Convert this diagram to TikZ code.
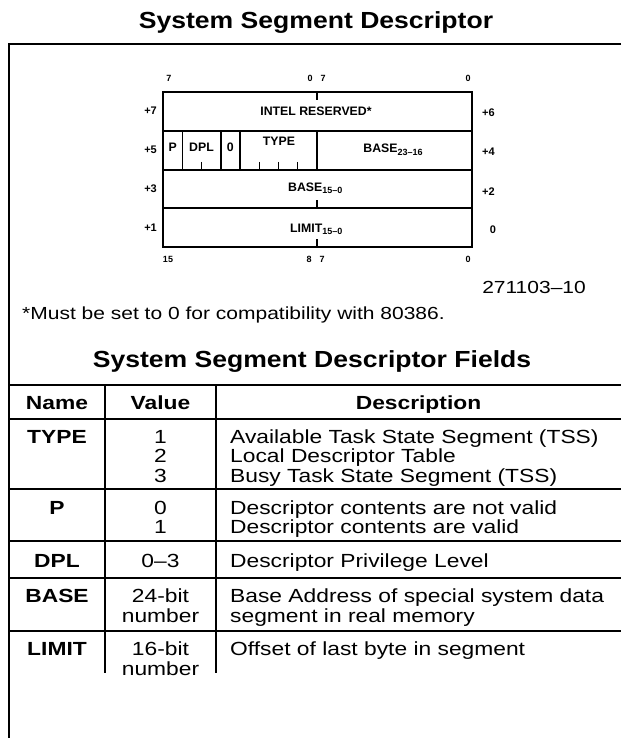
\documentclass[tikz,border=0pt]{standalone}
\usepackage{fontspec}
\setmainfont{Liberation Sans}[FakeStretch=1.2]
\newfontfamily\titlefont{Liberation Sans}[FakeStretch=1.14]
\newfontfamily\diagfont{Liberation Sans}
\newcommand{\subtxt}[1]{\raisebox{-0.45ex}{\fontsize{9}{9}\selectfont #1}}
\begin{document}
\begin{tikzpicture}[x=1pt,y=-1pt,
  frame/.style={line width=1.7pt},
  reg/.style={line width=1.9pt},
  regdiv/.style={line width=1.5pt},
  regtick/.style={line width=1.2pt},
  bigtitle/.style={font=\titlefont\bfseries\fontsize{23.3}{26}\selectfont, inner sep=0pt, anchor=base},
  note/.style={font=\fontsize{17.5}{19}\selectfont, inner sep=0pt, anchor=base},
  tbltext/.style={font=\fontsize{19}{19.5}\selectfont, inner sep=0pt, anchor=base},
  tblhead/.style={font=\bfseries\fontsize{19}{19.5}\selectfont, inner sep=0pt, anchor=base},
  field/.style={font=\diagfont\bfseries\fontsize{12.3}{12}\selectfont, inner sep=0pt, anchor=base},
  bitno/.style={font=\diagfont\bfseries\fontsize{9}{9}\selectfont, inner sep=0pt},
  offs/.style={font=\diagfont\bfseries\fontsize{11}{11}\selectfont, inner sep=0pt}
]
\useasboundingbox (0,0) rectangle (621,738);
% titles
\node[bigtitle] (title) at (316,29) {System Segment Descriptor};
% outer frame
\draw[frame] (621,44) -- (9,44) -- (9,738);
% register
\draw[reg] (163,92) rectangle (472,247);
\draw[regdiv] (163,131) -- (472,131);
\draw[regdiv] (163,170) -- (472,170);
\draw[regdiv] (163,208) -- (472,208);
\foreach \x in {182.25,220.75,240,317} \draw[regdiv] (\x,131) -- (\x,170);
\foreach \x in {201.5,259.25,278.5,297.75} \draw[regtick] (\x,162) -- (\x,170);
\draw[regtick] (317,92) -- (317,100);
\draw[regtick] (317,200) -- (317,208);
\draw[regtick] (317,239) -- (317,247);
% bit numbers
\node[bitno] (t7a) at (169,78) {7};
\node[bitno] (t0a) at (310,78) {0};
\node[bitno] (t7b) at (323,78) {7};
\node[bitno] (t0b) at (468,78) {0};
\node[bitno] (b15) at (168,259) {15};
\node[bitno] (b8) at (309,259) {8};
\node[bitno] (b7) at (322,259) {7};
\node[bitno] (b0) at (468,259) {0};
% offsets
\node[offs,anchor=east] (o7) at (157,111) {+7};
\node[offs,anchor=east] (o5) at (157,150) {+5};
\node[offs,anchor=east] (o3) at (157,189) {+3};
\node[offs,anchor=east] (o1) at (157,228) {+1};
\node[offs,anchor=west] (o6) at (482,113) {+6};
\node[offs,anchor=west] (o4) at (482,152) {+4};
\node[offs,anchor=west] (o2) at (482,192) {+2};
\node[offs] (o0) at (493,230) {0};
% fields
\node[field] (res) at (316,116) {INTEL RESERVED*};
\node[field] (fp) at (172.6,152) {P};
\node[field] (fdpl) at (201.5,152) {DPL};
\node[field] (fz) at (230.4,152) {0};
\node[field] (ftype) at (279,146) {TYPE};
\node[field] (fbh) at (393,152.5) {BASE\subtxt{23–16}};
\node[field,anchor=base west] (fbl) at (288,191) {BASE\subtxt{15–0}};
\node[field,anchor=base west] (flim) at (290,232) {LIMIT\subtxt{15–0}};
% notes
\node[note,anchor=base east] (fig) at (586,293) {271103–10};
\node[note,anchor=base west] (foot) at (22,319) {*Must be set to 0 for compatibility with 80386.};
\node[bigtitle] (ftitle) at (312,367) {System Segment Descriptor Fields};
% table rules
\foreach \y in {385,419,489,541,578,631} \draw[frame] (9,\y) -- (621,\y);
\draw[frame] (105,385) -- (105,673);
\draw[frame] (216,385) -- (216,673);
% header
\node[tblhead] (hname) at (57,409) {Name};
\node[tblhead] (hval) at (160.5,409) {Value};
\node[tblhead] (hdesc) at (418.5,409) {Description};
% names
\node[tblhead] (ntype) at (57,443) {TYPE};
\node[tblhead] (np) at (57,514) {P};
\node[tblhead] (ndpl) at (57,567) {DPL};
\node[tblhead] (nbase) at (57,602.5) {BASE};
\node[tblhead] (nlim) at (57,655.5) {LIMIT};
% values
\node[tbltext] (v1) at (160.5,443) {1};
\node[tbltext] (v2) at (160.5,462.5) {2};
\node[tbltext] (v3) at (160.5,482) {3};
\node[tbltext] (vp0) at (160.5,514) {0};
\node[tbltext] (vp1) at (160.5,533.5) {1};
\node[tbltext] (vdpl) at (160.5,567) {0–3};
\node[tbltext] (vb1) at (160.5,602.5) {24-bit};
\node[tbltext] (vb2) at (160.5,622) {number};
\node[tbltext] (vl1) at (160.5,655.5) {16-bit};
\node[tbltext] (vl2) at (160.5,675) {number};
% descriptions
\node[tbltext,anchor=base west] (d1) at (230,443) {Available Task State Segment (TSS)};
\node[tbltext,anchor=base west] (d2) at (230,462.5) {Local Descriptor Table};
\node[tbltext,anchor=base west] (d3) at (230,482) {Busy Task State Segment (TSS)};
\node[tbltext,anchor=base west] (dp0) at (230,514) {Descriptor contents are not valid};
\node[tbltext,anchor=base west] (dp1) at (230,533.5) {Descriptor contents are valid};
\node[tbltext,anchor=base west] (ddpl) at (230,567) {Descriptor Privilege Level};
\node[tbltext,anchor=base west] (db1) at (230,602.5) {Base Address of special system data};
\node[tbltext,anchor=base west] (db2) at (230,622) {segment in real memory};
\node[tbltext,anchor=base west] (dl1) at (230,655.5) {Offset of last byte in segment};
\end{tikzpicture}
\end{document}
